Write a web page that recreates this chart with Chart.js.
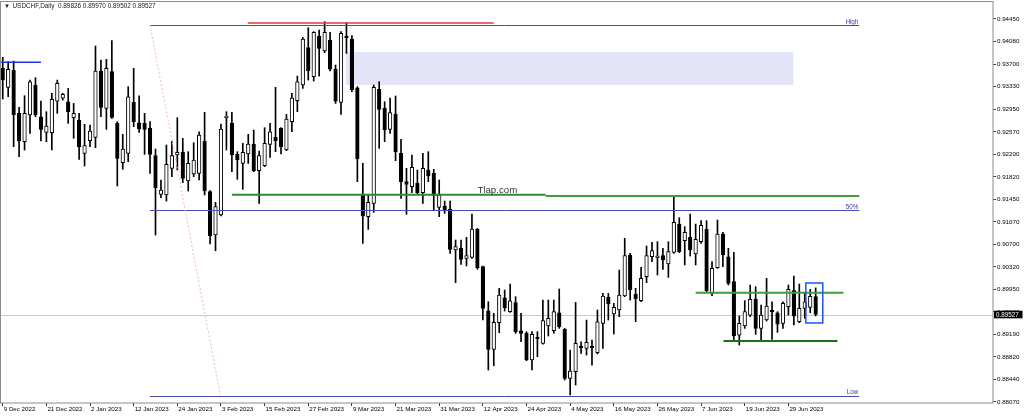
<!DOCTYPE html>
<html>
<head>
<meta charset="utf-8">
<script src="https://cdn.jsdelivr.net/npm/chart.js@4.4.0/dist/chart.umd.min.js"></script>
<style>
  html, body { margin: 0; padding: 0; background: #fff; overflow: hidden; }
</style>
</head>
<body>
<canvas id="chart" width="1024" height="418"></canvas>
<script>
// USDCHF daily candles, 9 Dec 2022 .. 6 Jul 2023 (one per trading day)
const symbol = 'USDCHF';
const timeframe = 'Daily';

const opens = [
  0.93627, 0.93311, 0.93594, 0.92878, 0.92406, 0.92850, 0.93350, 0.92822, 0.92561, 0.92555,
  0.93083, 0.93133, 0.93072, 0.92806, 0.92767, 0.92212, 0.92423, 0.92478, 0.93583, 0.92961,
  0.93572, 0.92711, 0.92056, 0.92212, 0.93061, 0.92722, 0.92711, 0.92628, 0.92173, 0.91529,
  0.91518, 0.91962, 0.92184, 0.92229, 0.91751, 0.91868, 0.91879, 0.92417, 0.91573, 0.90851,
  0.91185, 0.92806, 0.92711, 0.92195, 0.92045, 0.92201, 0.92367, 0.91923, 0.92007, 0.92362,
  0.92478, 0.92628, 0.92267, 0.92739, 0.93089, 0.93350, 0.93972, 0.93488, 0.94167, 0.93916,
  0.94100, 0.93616, 0.93061, 0.94167, 0.94111, 0.93305, 0.91518, 0.91157, 0.91379, 0.93278,
  0.92961, 0.92611, 0.92867, 0.92212, 0.91740, 0.91657, 0.91712, 0.91557, 0.91934, 0.91879,
  0.91312, 0.91334, 0.91284, 0.90601, 0.90629, 0.90462, 0.90479, 0.90951, 0.90324, 0.89590,
  0.88946, 0.89391, 0.89807, 0.89574, 0.89724, 0.89257, 0.89213, 0.88769, 0.89146, 0.89046,
  0.89335, 0.89257, 0.89557, 0.89280, 0.88463, 0.88575, 0.89002, 0.88963, 0.89002, 0.88891,
  0.89380, 0.89813, 0.89535, 0.89602, 0.89835, 0.90518, 0.89863, 0.89757, 0.90157, 0.90490,
  0.90474, 0.90507, 0.90368, 0.90563, 0.91034, 0.90757, 0.90812, 0.90535, 0.90740, 0.90946,
  0.89879, 0.90307, 0.90868, 0.90490, 0.90074, 0.89185, 0.89335, 0.89518, 0.89779, 0.89296,
  0.89435, 0.89596, 0.89557, 0.89380, 0.89657, 0.89924, 0.89407, 0.89629, 0.89646, 0.89826
];
const highs = [
  0.93811, 0.93739, 0.93750, 0.92978, 0.93172, 0.93433, 0.93472, 0.93083, 0.92906, 0.93211,
  0.93433, 0.93211, 0.93294, 0.93044, 0.92878, 0.92695, 0.92683, 0.94000, 0.93767, 0.93778,
  0.94089, 0.92739, 0.92528, 0.93322, 0.93627, 0.93172, 0.92878, 0.92739, 0.92284, 0.91768,
  0.92351, 0.92406, 0.92806, 0.92462, 0.92240, 0.92389, 0.92572, 0.92895, 0.91590, 0.91395,
  0.92700, 0.92906, 0.92895, 0.92240, 0.92378, 0.92528, 0.92600, 0.92251, 0.92639, 0.92711,
  0.93311, 0.92639, 0.92861, 0.93211, 0.93499, 0.94144, 0.94305, 0.94239, 0.94266, 0.94405,
  0.94227, 0.93683, 0.94239, 0.94388, 0.94172, 0.93322, 0.92045, 0.91518, 0.93350, 0.93405,
  0.93072, 0.93133, 0.93167, 0.92445, 0.91962, 0.92184, 0.91934, 0.92212, 0.92240, 0.91946,
  0.91768, 0.91417, 0.91417, 0.90768, 0.90768, 0.90812, 0.91201, 0.90962, 0.90335, 0.89740,
  0.89546, 0.89963, 0.89935, 0.90035, 0.89824, 0.89546, 0.89241, 0.89241, 0.89241, 0.89768,
  0.89768, 0.89768, 0.89952, 0.89296, 0.88935, 0.89729, 0.89074, 0.89435, 0.89102, 0.89602,
  0.89879, 0.89879, 0.89713, 0.90268, 0.90796, 0.90546, 0.89963, 0.90313, 0.90668, 0.90729,
  0.90740, 0.90629, 0.90740, 0.91490, 0.91140, 0.90990, 0.91201, 0.91034, 0.91090, 0.91090,
  0.90407, 0.91101, 0.90896, 0.90629, 0.90563, 0.89502, 0.89757, 0.90018, 0.89991, 0.89685,
  0.90130, 0.89740, 0.89574, 0.89740, 0.90018, 0.90168, 0.90035, 0.89879, 0.89946, 0.89970
];
const lows = [
  0.93116, 0.93155, 0.92323, 0.92156, 0.92267, 0.92545, 0.92822, 0.92417, 0.92406, 0.92267,
  0.92878, 0.93100, 0.92711, 0.92462, 0.92112, 0.92001, 0.92323, 0.92306, 0.92822, 0.92611,
  0.92795, 0.91668, 0.91946, 0.92073, 0.92656, 0.92561, 0.92195, 0.91879, 0.90851, 0.91473,
  0.91417, 0.91823, 0.91934, 0.91724, 0.91584, 0.91823, 0.91768, 0.91518, 0.90701, 0.90590,
  0.91168, 0.92267, 0.91907, 0.91779, 0.91612, 0.92045, 0.91907, 0.91379, 0.91990, 0.92145,
  0.92240, 0.92201, 0.92256, 0.92572, 0.92906, 0.93294, 0.93433, 0.93416, 0.93499, 0.93889,
  0.93583, 0.93044, 0.92861, 0.93877, 0.93239, 0.91740, 0.90712, 0.90946, 0.91229, 0.92295,
  0.92406, 0.92545, 0.92090, 0.91462, 0.91196, 0.91557, 0.91529, 0.91379, 0.91740, 0.91268,
  0.91157, 0.91212, 0.90546, 0.90058, 0.90363, 0.90335, 0.90462, 0.90280, 0.89435, 0.88602,
  0.88674, 0.89224, 0.89585, 0.89563, 0.89213, 0.89074, 0.88758, 0.88602, 0.88824, 0.89035,
  0.89169, 0.89213, 0.89296, 0.88436, 0.88186, 0.88353, 0.88880, 0.88852, 0.88685, 0.88869,
  0.88963, 0.89435, 0.89202, 0.89491, 0.89824, 0.89768, 0.89407, 0.89740, 0.90058, 0.90407,
  0.90185, 0.90280, 0.90146, 0.90546, 0.90557, 0.90352, 0.90501, 0.90352, 0.90712, 0.89896,
  0.89840, 0.90296, 0.90324, 0.90018, 0.89091, 0.89019, 0.89296, 0.89491, 0.89196, 0.89074,
  0.89418, 0.89113, 0.89230, 0.89296, 0.89518, 0.89352, 0.89391, 0.89463, 0.89557, 0.89502
];
const closes = [
  0.93433, 0.93611, 0.92850, 0.92417, 0.92878, 0.93405, 0.92850, 0.92611, 0.92667, 0.93111,
  0.93378, 0.93194, 0.92906, 0.92878, 0.92323, 0.92340, 0.92584, 0.93583, 0.92978, 0.93627,
  0.92811, 0.92128, 0.92284, 0.93155, 0.92739, 0.92617, 0.92611, 0.92195, 0.91640, 0.91601,
  0.92029, 0.92173, 0.92229, 0.91796, 0.92045, 0.92101, 0.92517, 0.91584, 0.90840, 0.91323,
  0.92617, 0.92834, 0.92184, 0.92101, 0.92229, 0.92367, 0.91923, 0.92173, 0.92378, 0.92572,
  0.92423, 0.92323, 0.92784, 0.93133, 0.93405, 0.94117, 0.93583, 0.94227, 0.93961, 0.94227,
  0.93616, 0.93083, 0.94211, 0.94139, 0.93267, 0.92117, 0.91168, 0.91395, 0.93311, 0.92945,
  0.92600, 0.92889, 0.92240, 0.91740, 0.91696, 0.91979, 0.91557, 0.91962, 0.91834, 0.91507,
  0.91518, 0.91268, 0.90612, 0.90657, 0.90446, 0.90507, 0.90951, 0.90307, 0.89629, 0.88946,
  0.89396, 0.89852, 0.89640, 0.89757, 0.89241, 0.89213, 0.88769, 0.89196, 0.89124, 0.89424,
  0.89463, 0.89574, 0.89324, 0.88463, 0.88586, 0.89046, 0.88974, 0.89063, 0.88974, 0.89407,
  0.89835, 0.89702, 0.89646, 0.89852, 0.90507, 0.89935, 0.89785, 0.90130, 0.90507, 0.90590,
  0.90501, 0.90435, 0.90574, 0.91062, 0.90574, 0.90896, 0.90601, 0.90779, 0.91012, 0.89924,
  0.90296, 0.90868, 0.90518, 0.90046, 0.89169, 0.89380, 0.89574, 0.89779, 0.89296, 0.89518,
  0.89668, 0.89574, 0.89368, 0.89713, 0.89946, 0.89502, 0.89629, 0.89740, 0.89830, 0.89527
];

// time axis: one label every 8 bars, empty slots on the right (chart shift)
const tickLabels = [
  '9 Dec 2022', '21 Dec 2022', '2 Jan 2023', '12 Jan 2023', '24 Jan 2023', '3 Feb 2023',
  '15 Feb 2023', '27 Feb 2023', '9 Mar 2023', '21 Mar 2023', '31 Mar 2023', '12 Apr 2023',
  '24 Apr 2023', '4 May 2023', '16 May 2023', '26 May 2023', '7 Jun 2023', '19 Jun 2023', '29 Jun 2023'
];
const tickEvery = 8;
const totalSlots = 182;

// price axis
const yTicks = [0.94450, 0.94080, 0.93700, 0.93330, 0.92950, 0.92570, 0.92200, 0.91820, 0.91450,
                0.91070, 0.90700, 0.90320, 0.89950, 0.89570, 0.89190, 0.88820, 0.88440, 0.88070];
const yMin = 0.88053;
const yMax = 0.94733;
const lastPrice = closes[closes.length - 1];

// drawn objects (bar index, price)
const fiboFrom = 27, fiboTo = 157, fiboDiagEnd = 39.9;
const fiboLevels = [['High', 0.94350], ['50%', 0.91263], ['Low', 0.88175]];
const greenLines = [[42, 99.5, 0.91523], [99.5, 157, 0.91501], [127, 154.1, 0.89890]];
const supportLine = [132.1, 153, 0.89086];
const redLine = [44.9, 90, 0.94383];
const blueLine = [-0.5, 7, 0.93729];
const zoneBox = [62.9, 144.9, 0.93900, 0.93351];
const lastBox = [147.2, 150.3, 0.90052, 0.89386];
const watermark = ['Tlap.com', 87, 0.91590];

const FONT = 'Liberation Sans';
Chart.defaults.font.family = FONT;

const labels = Array.from({ length: totalSlots }, (_, i) => i);
const bodies = opens.map((o, i) => [Math.min(o, closes[i]), Math.max(o, closes[i])]);
const wicks = lows.map((l, i) => [l, highs[i]]);
const bodyColors = opens.map((o, i) => closes[i] >= o ? '#ffffff' : '#000000');

function hasLabel(i) {
  return i % tickEvery === 0 && i / tickEvery < tickLabels.length;
}

function hline(ctx, x1, x2, y, color, width, dash) {
  ctx.save();
  ctx.strokeStyle = color;
  ctx.lineWidth = width;
  ctx.setLineDash(dash || []);
  ctx.beginPath();
  ctx.moveTo(x1, y);
  ctx.lineTo(x2, y);
  ctx.stroke();
  ctx.restore();
}

const overlay = {
  id: 'overlay',
  beforeDatasetsDraw(chart) {
    const { ctx, chartArea: a, scales: { x, y } } = chart;
    // shaded zone
    ctx.save();
    ctx.fillStyle = '#e4e4f8';
    const zx1 = x.getPixelForValue(zoneBox[0]), zx2 = x.getPixelForValue(zoneBox[1]);
    const zy1 = y.getPixelForValue(zoneBox[2]), zy2 = y.getPixelForValue(zoneBox[3]);
    ctx.fillRect(zx1, zy1, zx2 - zx1, zy2 - zy1);
    ctx.restore();
    // bid line
    hline(ctx, a.left, a.right, Math.round(y.getPixelForValue(lastPrice)) + 0.5, '#c8c8c8', 1);
  },
  afterDatasetsDraw(chart) {
    const { ctx, chartArea: a, scales: { x, y } } = chart;
    const X = v => x.getPixelForValue(v);
    const Y = v => y.getPixelForValue(v);

    // fibo levels
    fiboLevels.forEach(([name, p]) => {
      hline(ctx, X(fiboFrom), X(fiboTo), Math.round(Y(p)) + 0.5, '#4a4ab4', 1);
      ctx.save();
      ctx.fillStyle = '#3a3aa8';
      ctx.font = '6.3px ' + FONT;
      ctx.textAlign = 'right';
      ctx.textBaseline = 'bottom';
      ctx.fillText(name, X(fiboTo) - 1, Y(p));
      ctx.restore();
    });
    // fibo diagonal
    ctx.save();
    ctx.strokeStyle = '#f2b4c4';
    ctx.lineWidth = 1;
    ctx.setLineDash([2, 2]);
    ctx.beginPath();
    ctx.moveTo(X(fiboFrom), Y(fiboLevels[0][1]));
    ctx.lineTo(X(fiboDiagEnd), Y(fiboLevels[2][1]));
    ctx.stroke();
    ctx.restore();

    // horizontal levels
    greenLines.forEach(([f, t, p], k) => hline(ctx, X(f), X(t), Y(p), k === 0 ? '#2a8f2a' : '#3c9e3c', 2));
    hline(ctx, X(supportLine[0]), X(supportLine[1]), Y(supportLine[2]), '#1d6e1d', 2);
    hline(ctx, X(redLine[0]), X(redLine[1]), Y(redLine[2]), '#e23a3a', 1.5);
    hline(ctx, Math.max(a.left, X(blueLine[0])), X(blueLine[1]), Y(blueLine[2]), '#2233dd', 1.5);

    // box around the last two candles
    ctx.save();
    ctx.strokeStyle = '#1e50ff';
    ctx.lineWidth = 1.5;
    const bx1 = X(lastBox[0]), bx2 = X(lastBox[1]);
    const by1 = Y(lastBox[2]), by2 = Y(lastBox[3]);
    ctx.strokeRect(bx1, by1, bx2 - bx1, by2 - by1);
    ctx.restore();

    // watermark
    ctx.save();
    ctx.fillStyle = '#333333';
    ctx.font = '9.7px ' + FONT;
    ctx.textAlign = 'left';
    ctx.textBaseline = 'middle';
    ctx.fillText(watermark[0], X(watermark[1]), Y(watermark[2]));
    ctx.restore();
  },
  afterDraw(chart) {
    const { ctx, chartArea: a, scales: { y } } = chart;
    // frame
    ctx.save();
    ctx.strokeStyle = '#8c8c8c';
    ctx.lineWidth = 1;
    ctx.strokeRect(a.left + 0.5, a.top - 0.5, a.right - a.left - 0.5, a.bottom - a.top + 0.5);
    ctx.restore();

    // title
    const n = opens.length - 1;
    const title = symbol + ',' + timeframe + '  ' +
      [opens[n], highs[n], lows[n], closes[n]].map(v => v.toFixed(5)).join(' ');
    ctx.save();
    ctx.fillStyle = '#222';
    ctx.font = '6px ' + FONT;
    ctx.textBaseline = 'middle';
    ctx.fillText('\u25BC', 4, 6.5);
    ctx.font = '6.4px ' + FONT;
    ctx.fillText(title, 12.5, 6.5);
    ctx.restore();

    // current price tag
    const py = Y0(y, lastPrice);
    ctx.save();
    ctx.fillStyle = '#000';
    ctx.fillRect(a.right + 1, py - 3.8, 28.5, 7.6);
    ctx.fillStyle = '#fff';
    ctx.font = '6.3px ' + FONT;
    ctx.textBaseline = 'middle';
    ctx.fillText(lastPrice.toFixed(5), a.right + 3, py + 0.3);
    ctx.restore();
  }
};

function Y0(scale, v) { return scale.getPixelForValue(v); }

new Chart(document.getElementById('chart'), {
  type: 'bar',
  data: {
    labels: labels,
    datasets: [
      {
        label: 'body',
        data: bodies,
        backgroundColor: bodyColors,
        borderColor: '#000',
        borderWidth: 1,
        borderSkipped: false,
        barThickness: 3.6,
        minBarLength: 1,
        grouped: false,
        order: 0
      },
      {
        label: 'wick',
        data: wicks,
        backgroundColor: '#000',
        borderWidth: 0,
        barThickness: 1,
        grouped: false,
        order: 1
      }
    ]
  },
  options: {
    responsive: false,
    animation: false,
    devicePixelRatio: 1,
    layout: { padding: { top: 2, left: 0, right: 0, bottom: 0 } },
    plugins: { legend: { display: false }, tooltip: { enabled: false } },
    scales: {
      x: {
        type: 'category',
        offset: true,
        afterFit: s => { s.height = 15; s.paddingLeft = 0; s.paddingRight = 0; },
        grid: {
          offset: false,
          drawOnChartArea: false,
          tickLength: 3,
          color: c => hasLabel(c.index) ? '#333' : 'rgba(0,0,0,0)'
        },
        border: { display: false },
        ticks: {
          autoSkip: false,
          maxRotation: 0,
          minRotation: 0,
          align: 'start',
          padding: 0,
          labelOffset: 1,
          color: '#000',
          font: { family: FONT, size: 6.2 },
          callback: (v, i) => hasLabel(i) ? tickLabels[i / tickEvery] : ''
        }
      },
      y: {
        position: 'right',
        min: yMin,
        max: yMax,
        afterFit: s => { s.width = 31; s.paddingTop = 0; s.paddingBottom = 0; },
        afterBuildTicks: s => { s.ticks = yTicks.map(v => ({ value: v })); },
        grid: { drawOnChartArea: false, tickLength: 3, color: '#444' },
        border: { display: false },
        ticks: {
          padding: 1,
          color: '#000',
          font: { family: FONT, size: 6.2 },
          callback: v => v.toFixed(5)
        }
      }
    }
  },
  plugins: [overlay]
});
</script>
</body>
</html>
